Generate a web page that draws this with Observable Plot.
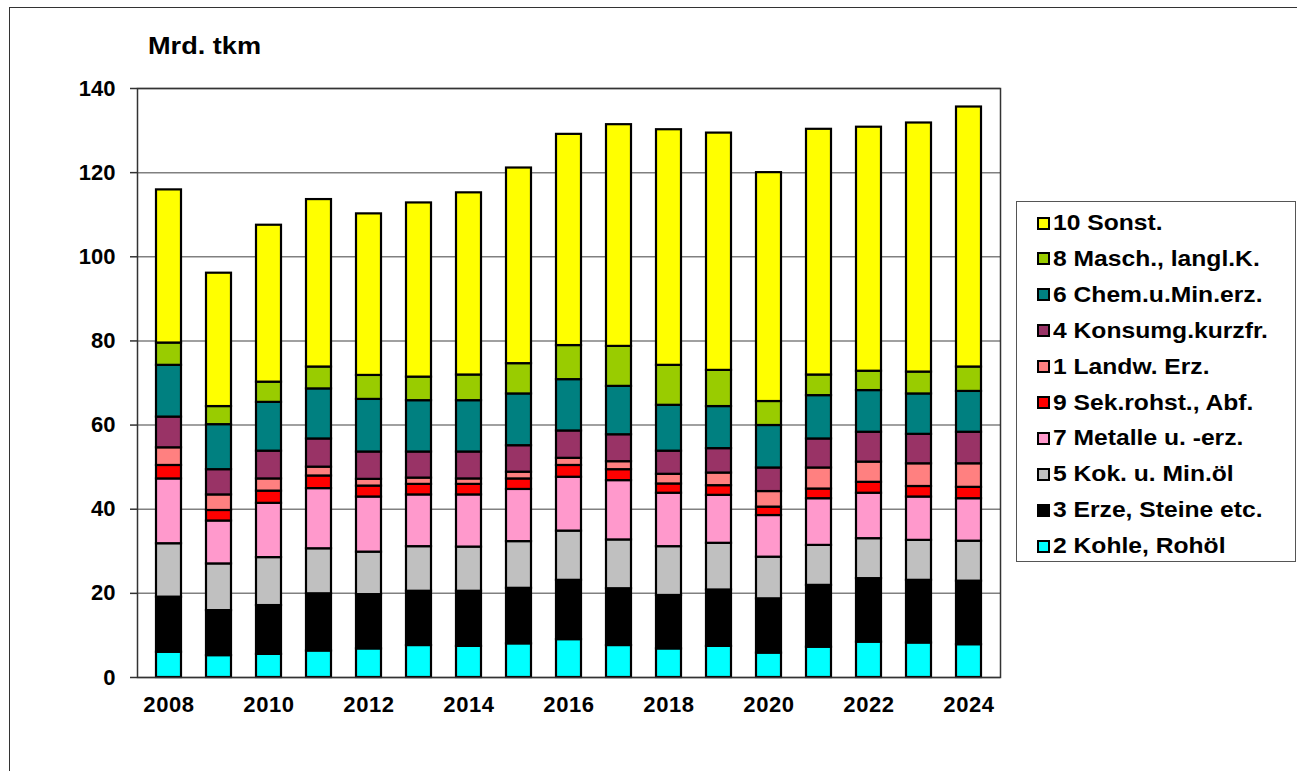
<!DOCTYPE html>
<html>
<head>
<meta charset="utf-8">
<script src="https://cdn.jsdelivr.net/npm/d3@7"></script>
<script src="https://cdn.jsdelivr.net/npm/@observablehq/plot@0.6"></script>
<style>
  html, body { margin: 0; padding: 0; background: #fff; overflow: hidden; }
  body { width: 1297px; height: 771px; position: relative; font-family: "Liberation Sans", Arial, sans-serif; }
  #border { position: absolute; left: 9px; top: 7px; width: 1400px; height: 900px; border-left: 1.5px solid #333; border-top: 1.5px solid #333; }
  #chart { position: absolute; left: 0; top: 0; }
  #ytitle { position: absolute; left: 148px; top: 33px; font-size: 23px; font-weight: bold; transform-origin: left top; transform: scaleX(1.18); white-space: nowrap; }
  #legend { position: absolute; left: 1016px; top: 201px; width: 280px; height: 361px; border: 1.5px solid #555; box-sizing: border-box; background: #fff; }
  .item { position: absolute; left: 20px; height: 36px; display: flex; align-items: center; white-space: nowrap; }
  .sw { width: 9px; height: 9px; border: 2px solid #000; box-sizing: content-box; margin-right: 3px; }
  .lt { font-size: 22px; font-weight: bold; transform-origin: left center; transform: scaleX(1.12); display: inline-block; }
</style>
</head>
<body>
<div id="border"></div>
<div id="chart"></div>
<div id="ytitle">Mrd. tkm</div>
<div id="legend"></div>
<script>
// Years
const years = [2008, 2009, 2010, 2011, 2012, 2013, 2014, 2015, 2016, 2017, 2018, 2019, 2020, 2021, 2022, 2023, 2024];
const xTickYears = [2008, 2010, 2012, 2014, 2016, 2018, 2020, 2022, 2024];
const yTicks = [0, 20, 40, 60, 80, 100, 120, 140];

// Series names (stack order, bottom to top) and colours
const seriesNames = ["2 Kohle, Rohöl", "3 Erze, Steine etc.", "5 Kok. u. Min.öl", "7 Metalle u. -erz.", "9 Sek.rohst., Abf.", "1 Landw. Erz.", "4 Konsumg.kurzfr.", "6 Chem.u.Min.erz.", "8 Masch., langl.K.", "10 Sonst."];
const seriesColors = ["#00FFFF", "#000000", "#C0C0C0", "#FF99CC", "#FF0000", "#FF8080", "#993366", "#008080", "#99CC00", "#FFFF00"];

// Values in Mrd. tkm, per year
const kohle    = [6.0, 5.2, 5.5, 6.3, 6.8, 7.6, 7.4, 8.0, 9.0, 7.6, 6.8, 7.4, 5.8, 7.2, 8.4, 8.2, 7.8];
const erze     = [13.1, 10.7, 11.6, 13.6, 12.9, 12.9, 13.1, 13.2, 14.1, 13.5, 12.7, 13.4, 12.9, 14.7, 15.1, 14.9, 15.1];
const koks     = [12.7, 11.1, 11.4, 10.7, 10.1, 10.6, 10.5, 11.1, 11.7, 11.6, 11.6, 11.1, 9.9, 9.5, 9.5, 9.5, 9.5];
const metalle  = [15.4, 10.2, 12.9, 14.3, 13.1, 12.3, 12.4, 12.4, 12.8, 14.1, 12.7, 11.4, 9.9, 11.1, 10.8, 10.3, 10.1];
const sekrohst = [3.2, 2.5, 2.9, 3.0, 2.6, 2.5, 2.5, 2.5, 2.8, 2.6, 2.2, 2.3, 2.0, 2.3, 2.6, 2.5, 2.7];
const landw    = [4.2, 3.7, 2.9, 2.1, 1.6, 1.5, 1.3, 1.6, 1.7, 1.9, 2.3, 3.0, 3.7, 5.0, 4.8, 5.4, 5.6];
const konsum   = [7.3, 6.0, 6.6, 6.7, 6.5, 6.2, 6.4, 6.3, 6.5, 6.4, 5.5, 5.8, 5.6, 6.9, 7.1, 7.0, 7.5];
const chem     = [12.3, 10.7, 11.6, 11.9, 12.5, 12.2, 12.2, 12.3, 12.2, 11.5, 10.9, 10.0, 10.1, 10.3, 9.9, 9.6, 9.7];
const masch    = [5.3, 4.3, 4.8, 5.2, 5.7, 5.6, 6.1, 7.2, 8.1, 9.5, 9.5, 8.6, 5.7, 4.9, 4.6, 5.2, 5.8];
const sonst    = [36.4, 31.7, 37.3, 39.8, 38.4, 41.4, 43.3, 46.5, 50.2, 52.7, 56.0, 56.4, 54.4, 58.4, 58.0, 59.2, 61.8];

const seriesValues = [kohle, erze, koks, metalle, sekrohst, landw, konsum, chem, masch, sonst];

const rows = [];
years.forEach((yr, i) => {
  seriesNames.forEach((name, s) => {
    rows.push({ year: yr, series: name, value: seriesValues[s][i] });
  });
});

const chart = Plot.plot({
  width: 1010,
  height: 737,
  marginLeft: 137,
  marginRight: 10,
  marginTop: 88,
  marginBottom: 60,
  style: "font-family: 'Liberation Sans', Arial, sans-serif; font-size: 22px; font-weight: bold; color: #000; background: transparent; overflow: visible;",
  x: { type: "band", domain: years, paddingInner: 0.5, paddingOuter: 0.25, label: null },
  y: { domain: [0, 140], label: null },
  color: { domain: seriesNames, range: seriesColors },
  marks: [
    Plot.gridY(yTicks, { stroke: "#808080", strokeOpacity: 1, strokeWidth: 1.5 }),
    Plot.barY(rows, Plot.stackY({ order: seriesNames }, { x: "year", y: "value", z: "series", fill: "series", stroke: "#000", strokeWidth: 2.2 })),
    Plot.frame({ stroke: "#333", strokeWidth: 1.5 }),
    Plot.axisY({ ticks: yTicks, tickSize: 7, tickPadding: 15, tickFormat: d => String(d), stroke: "#333", strokeWidth: 1.5, fill: "#000" }),
    Plot.axisX({ ticks: xTickYears, tickSize: 0, tickPadding: 19, tickFormat: d => String(d), fill: "#000" })
  ]
});
document.getElementById("chart").appendChild(chart);
// slight widening of x tick labels like the original rendering
chart.querySelectorAll("[aria-label='x-axis tick label'] text").forEach(t => t.style.letterSpacing = "0.6px");

// Legend (top to bottom = reverse stack order)
const legend = document.getElementById("legend");
const order = seriesNames.map((n, i) => i).reverse();
order.forEach((idx, k) => {
  const item = document.createElement("div");
  item.className = "item";
  item.style.top = (3 + k * 35.9) + "px";
  const sw = document.createElement("span");
  sw.className = "sw";
  sw.style.background = seriesColors[idx];
  const lt = document.createElement("span");
  lt.className = "lt";
  lt.textContent = seriesNames[idx];
  item.appendChild(sw);
  item.appendChild(lt);
  legend.appendChild(item);
});
</script>
</body>
</html>
